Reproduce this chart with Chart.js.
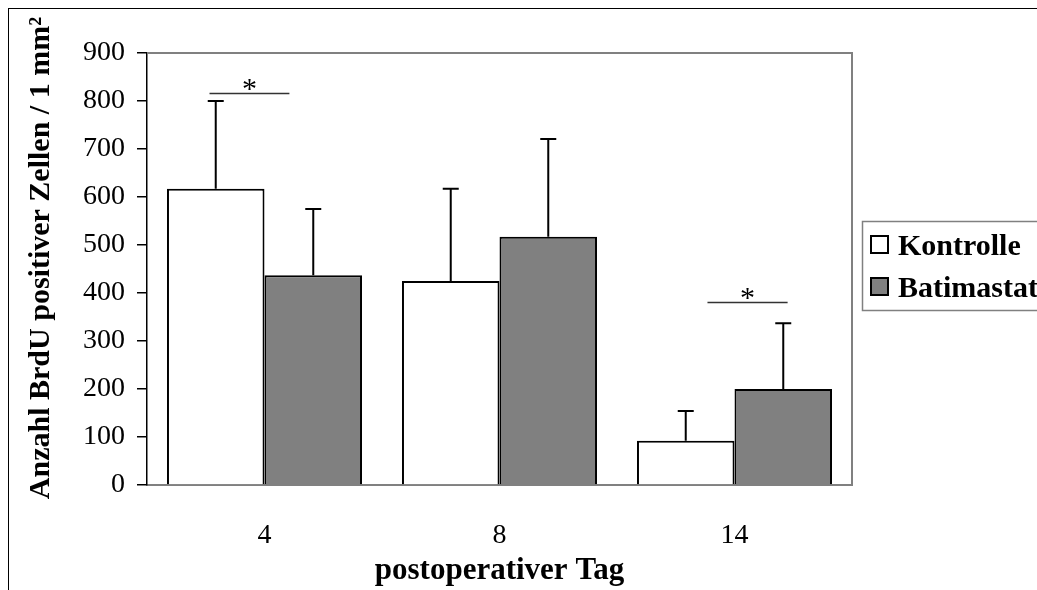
<!DOCTYPE html>
<html>
<head>
<meta charset="utf-8">
<script src="https://cdn.jsdelivr.net/npm/chart.js@4/dist/chart.umd.min.js"></script>
<style>
  html, body { margin: 0; padding: 0; background: #fff; }
  #wrap { width: 1037px; height: 590px; }
</style>
</head>
<body>
<div id="wrap"><canvas id="chart" width="1037" height="590"></canvas></div>
<script>
  const days = ["4", "8", "14"];
  const seriesNames = ["Kontrolle", "Batimastat"];
  const kontrolle = [617, 425, 92];
  const kontrolleSD = [183, 192, 62];
  const batimastat = [437, 517, 200];
  const batimastatSD = [138, 204, 137];
  // significance bar height per day (null = none)
  const sigLevel = [817, null, 381];
  const yTitle = "Anzahl BrdU positiver Zellen / 1 mm²";

  const SERIF = "'Liberation Serif', 'Times New Roman', serif";

  const errorBars = {
    id: "errorBars",
    afterDatasetsDraw(chart) {
      const ctx = chart.ctx;
      const y = chart.scales.y;
      const sds = [kontrolleSD, batimastatSD];
      ctx.save();
      ctx.strokeStyle = "#000";
      ctx.lineWidth = 2;
      chart.data.datasets.forEach((ds, di) => {
        chart.getDatasetMeta(di).data.forEach((bar, i) => {
          const top = y.getPixelForValue(ds.data[i] + sds[di][i]);
          ctx.beginPath();
          ctx.moveTo(bar.x, bar.y);
          ctx.lineTo(bar.x, top);
          ctx.moveTo(bar.x - 8, top);
          ctx.lineTo(bar.x + 8, top);
          ctx.stroke();
        });
      });
      ctx.restore();
    },
  };

  // significance line + asterisk; span given as fraction of category width
  const sigMarks = {
    id: "sigMarks",
    afterDatasetsDraw(chart, args, opts) {
      const ctx = chart.ctx;
      const x = chart.scales.x, y = chart.scales.y;
      const catW = (chart.chartArea.right - chart.chartArea.left) / days.length;
      ctx.save();
      sigLevel.forEach((v, i) => {
        if (v == null) return;
        const c = x.getPixelForValue(i);
        const [a, b] = opts.spans[i];
        const x0 = c + a * catW, x1 = c + b * catW;
        const py = Math.round(y.getPixelForValue(v)) + 0.5;
        ctx.strokeStyle = "#333";
        ctx.lineWidth = 1.5;
        ctx.beginPath();
        ctx.moveTo(x0, py);
        ctx.lineTo(x1, py);
        ctx.stroke();
        ctx.fillStyle = "#000";
        ctx.font = "30px " + SERIF;
        ctx.textAlign = "center";
        ctx.textBaseline = "alphabetic";
        ctx.fillText("*", (x0 + x1) / 2, py + 4);
      });
      ctx.restore();
    },
  };

  const frame = {
    id: "frame",
    beforeDraw(chart) {
      const ctx = chart.ctx;
      ctx.save();
      ctx.fillStyle = "#fff";
      ctx.fillRect(0, 0, chart.width, chart.height);
      ctx.strokeStyle = "#000";
      ctx.lineWidth = 1;
      ctx.strokeRect(8.5, 8.5, chart.width + 20, chart.height + 20);
      ctx.restore();
    },
    afterDraw(chart) {
      const ctx = chart.ctx;
      const a = chart.chartArea;
      ctx.save();
      // grey plot border top and right
      ctx.strokeStyle = "#808080";
      ctx.lineWidth = 2;
      ctx.beginPath();
      ctx.moveTo(a.left, a.top);
      ctx.lineTo(a.right, a.top);
      ctx.lineTo(a.right, a.bottom);
      ctx.stroke();

      // y axis title, sits a bit above the axis centre in the original
      ctx.save();
      ctx.translate(41, 258);
      ctx.rotate(-Math.PI / 2);
      ctx.fillStyle = "#000";
      ctx.font = "bold 30px " + SERIF;
      ctx.textAlign = "center";
      ctx.textBaseline = "middle";
      ctx.fillText(yTitle, 0, 0);
      ctx.restore();

      // legend box
      const lx = 862, ly = 221;
      ctx.lineWidth = 1.5;
      ctx.strokeRect(lx + 0.5, ly + 0.5, 200, 89);
      ctx.font = "bold 30px " + SERIF;
      ctx.textAlign = "left";
      ctx.textBaseline = "alphabetic";
      chart.data.datasets.forEach((ds, i) => {
        const sy = ly + 15 + i * 42;
        ctx.fillStyle = ds.backgroundColor;
        ctx.fillRect(lx + 9, sy, 17, 17);
        ctx.strokeStyle = "#000";
        ctx.lineWidth = 2;
        ctx.strokeRect(lx + 9, sy, 17, 17);
        ctx.fillStyle = "#000";
        ctx.fillText(ds.label, lx + 36, sy + 19);
      });
      ctx.restore();
    },
  };

  new Chart(document.getElementById("chart"), {
    type: "bar",
    data: {
      labels: days,
      datasets: [
        {
          label: seriesNames[0],
          data: kontrolle,
          backgroundColor: "#ffffff",
          borderColor: "#000",
          borderWidth: 2,
        },
        {
          label: seriesNames[1],
          data: batimastat,
          backgroundColor: "#808080",
          borderColor: "#000",
          borderWidth: 2,
        },
      ],
    },
    options: {
      responsive: false,
      animation: false,
      layout: { padding: { left: 22, top: 53, right: 185, bottom: 0 } },
      datasets: { bar: { categoryPercentage: 0.83, barPercentage: 1 } },
      plugins: {
        legend: { display: false },
        tooltip: { enabled: false },
        sigMarks: { spans: [[-0.234, 0.106], null, [-0.115, 0.226]] },
      },
      scales: {
        x: {
          grid: { display: false, drawTicks: false },
          border: { color: "#808080", width: 2 },
          ticks: { color: "#000", padding: 34, font: { family: SERIF, size: 28 } },
          title: {
            display: true,
            text: "postoperativer Tag",
            color: "#000",
            padding: { top: 0, bottom: 0 },
            font: { family: SERIF, size: 31, weight: "bold" },
          },
          afterFit(s) { s.height = 105; },
        },
        y: {
          min: 0,
          max: 900,
          ticks: { stepSize: 100, color: "#000", padding: 12, font: { family: SERIF, size: 28 } },
          grid: { drawOnChartArea: false, drawTicks: true, tickLength: 10, color: "#000", lineWidth: 1.5 },
          border: { color: "#000", width: 1.5 },
          afterFit(s) { s.width = 125; },
        },
      },
    },
    plugins: [frame, errorBars, sigMarks],
  });
</script>
</body>
</html>
